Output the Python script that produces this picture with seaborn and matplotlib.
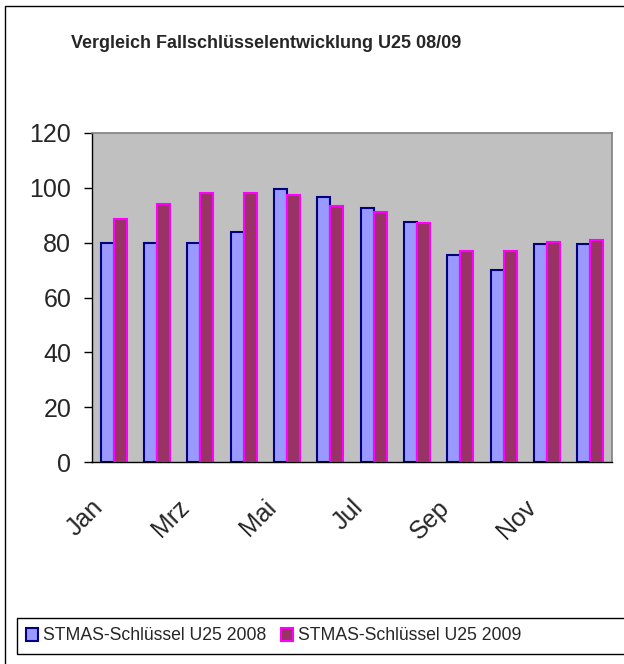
"""Vergleich Fallschlüsselentwicklung U25 08/09 - grouped bar chart."""

import matplotlib
matplotlib.use("Agg")
import matplotlib.pyplot as plt
import matplotlib.transforms as mtransforms
from matplotlib.patches import Rectangle
import numpy as np
import pandas as pd
import seaborn as sns

months = ["Jan", "Feb", "Mrz", "Apr", "Mai", "Jun", "Jul", "Aug", "Sep", "Okt", "Nov", "Dez"]
series_names = ["STMAS-Schlüssel U25 2008", "STMAS-Schlüssel U25 2009"]
values_2008 = [80, 80, 80, 84, 99.5, 96.5, 92.5, 87.7, 75.4, 70, 79.5, 79.5]
values_2009 = [88.5, 94, 98, 98, 97.4, 93.3, 91.1, 87, 76.8, 76.8, 80.2, 80.8]
y_ticks = [0, 20, 40, 60, 80, 100, 120]

fill_colors = ["#9999FF", "#993366"]
edge_colors = ["#000080", "#FF00FF"]

df = pd.DataFrame({
    "Monat": months * 2,
    "Wert": values_2008 + values_2009,
    "Serie": [series_names[0]] * len(months) + [series_names[1]] * len(months),
})

sns.set_theme(style="white")
plt.rcParams["font.family"] = ["Liberation Sans", "DejaVu Sans"]

fig = plt.figure(figsize=(6.24, 6.64), dpi=100)
ax = fig.add_axes([92 / 624, 1 - 462 / 664, 520 / 624, 329 / 664])

sns.barplot(data=df, x="Monat", y="Wert", hue="Serie", order=months,
            hue_order=series_names, palette=fill_colors, width=0.6,
            saturation=1, ax=ax, legend=False)

for container, ec in zip(ax.containers, edge_colors):
    for bar in container:
        bar.set_edgecolor(ec)
        bar.set_linewidth(1.5)

ax.set_facecolor("#C0C0C0")
ax.set_xlim(-0.5, len(months) - 0.5)
ax.set_ylim(0, 120)
ax.set_yticks(y_ticks)
ax.set_xlabel("")
ax.set_ylabel("")

# category labels every second month, tick marks between categories
ax.set_xticks(np.arange(len(months)))
ax.set_xticklabels([m if i % 2 == 0 else "" for i, m in enumerate(months)])
ax.tick_params(axis="x", which="major", length=0, pad=24, labelsize=18)
ax.set_xticks(np.arange(len(months) + 1) - 0.5, minor=True)
ax.tick_params(axis="x", which="minor", length=6, width=1, color="black", direction="out")
ax.tick_params(axis="y", length=6, width=1, color="black", direction="out", pad=9, labelsize=18)
ax.xaxis.set_tick_params(bottom=True)
ax.yaxis.set_tick_params(left=True)

offset = mtransforms.ScaledTranslation(-6 / 100, 0, fig.dpi_scale_trans)
for lbl in ax.get_xticklabels():
    lbl.set_rotation(45)
    lbl.set_ha("right")
    lbl.set_transform(lbl.get_transform() + offset)

for side in ["left", "bottom"]:
    ax.spines[side].set_color("black")
    ax.spines[side].set_linewidth(1)
for side in ["top", "right"]:
    ax.spines[side].set_color("#808080")
    ax.spines[side].set_linewidth(1.2)

fig.text(266 / 624, 1 - 43 / 664, "Vergleich Fallschlüsselentwicklung U25 08/09",
         ha="center", va="center", fontsize=13, fontweight="bold")

handles = [Rectangle((0, 0), 1, 1, facecolor=fc, edgecolor=ec, linewidth=1.5)
           for fc, ec in zip(fill_colors, edge_colors)]
leg = fig.legend(handles, series_names, loc="center left",
                 bbox_to_anchor=(17 / 624, 28 / 664), ncol=2, fontsize=12.7,
                 frameon=False, handlelength=0.7, handleheight=0.7, handletextpad=0.3,
                 columnspacing=0.8, borderpad=0.5, borderaxespad=0)

# legend box runs past the right edge, as in the original
fig.patches.append(Rectangle((17 / 624, 10 / 664), 1.0, 36 / 664, transform=fig.transFigure,
                             fill=False, edgecolor="black", linewidth=1))

# outer chart border (continues past the right/bottom edge)
fig.patches.append(Rectangle((5 / 624, -0.1), 1.2, 1.1 - 6 / 664, transform=fig.transFigure,
                             fill=False, edgecolor="black", linewidth=1))

fig.savefig("out.png", dpi=100, facecolor="white")
